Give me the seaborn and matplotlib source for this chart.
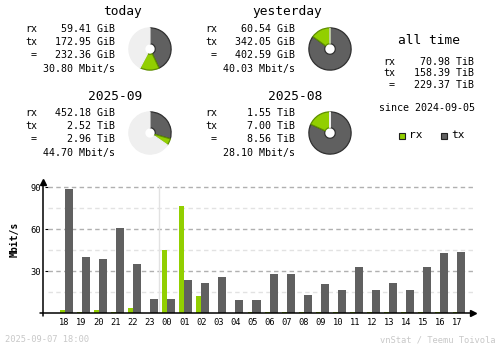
import matplotlib
matplotlib.use("Agg")
import matplotlib.pyplot as plt
from matplotlib.patches import Rectangle
import pandas as pd
import seaborn as sns

# ---- hourly traffic (Mbit/s) ----
hours = ["18", "19", "20", "21", "22", "23", "00", "01", "02", "03", "04", "05",
         "06", "07", "08", "09", "10", "11", "12", "13", "14", "15", "16", "17"]
rx_rate = [2.0, 1.0, 2.0, 1.0, 3.8, 0.0, 45.0, 76.4, 12.1, 0.0, 0.0, 0.7,
           0.7, 0.7, 0.7, 0.7, 0.7, 0.7, 0.7, 0.7, 0.7, 0.7, 0.7, 0.7]
tx_rate = [88.6, 40.0, 38.6, 60.7, 35.0, 10.0, 10.0, 23.6, 21.4, 25.7, 9.3, 9.3,
           27.9, 27.9, 12.9, 20.7, 16.4, 32.9, 16.4, 21.4, 16.4, 32.9, 42.9, 43.6]

# ---- period summaries ----
periods = ["today", "yesterday", "2025-09", "2025-08"]
rx_val = [59.41, 60.54, 452.18, 1.55]
rx_unit = ["GiB", "GiB", "GiB", "TiB"]
tx_val = [172.95, 342.05, 2.52, 7.00]
tx_unit = ["GiB", "GiB", "TiB", "TiB"]
tot_val = [232.36, 402.59, 2.96, 8.56]
tot_unit = ["GiB", "GiB", "TiB", "TiB"]
avg_rate = [30.80, 40.03, 44.70, 28.10]

alltime_rx, alltime_tx, alltime_tot = 70.98, 158.39, 229.37
since_date = "2024-09-05"
stamp = "2025-09-07 18:00"

RX = "#92cf00"
TX = "#606060"
PIE_BG = "#efefef"
W, H = 500, 348

sns.set_style("white")
plt.rcParams["font.family"] = ["DejaVu Sans Mono", "DejaVu Sans"]
plt.rcParams["lines.scale_dashes"] = False

fig = plt.figure(figsize=(W / 100, H / 100), dpi=100)
fig.patch.set_facecolor("white")


def fx(x):
    return x / W


def fy(y):
    return 1 - y / H


def put(x, y, s, ha="left", size=7.2, color="black", **kw):
    fig.text(fx(x), fy(y), s, ha=ha, va="center", fontsize=size, color=color, **kw)


def gib(v, u):
    return v * 1024 if u == "TiB" else v


# ---- summary blocks with donut charts ----
blocks = [(0, 0), (180, 0), (0, 84), (180, 84)]
compare = [1, 1, 3, 3]
for i, (dx, dy) in enumerate(blocks):
    put(142 + dx, 12 + dy, periods[i], ha="right", size=9.3)
    put(25 + dx, 29 + dy, "rx")
    put(25 + dx, 42 + dy, "tx")
    put(37 + dx, 55 + dy, "=", ha="right")
    put(115 + dx, 29 + dy, f"{rx_val[i]:.2f} {rx_unit[i]}", ha="right")
    put(115 + dx, 42 + dy, f"{tx_val[i]:.2f} {tx_unit[i]}", ha="right")
    put(115 + dx, 55 + dy, f"{tot_val[i]:.2f} {tot_unit[i]}", ha="right")
    put(115 + dx, 69 + dy, f"{avg_rate[i]:.2f} Mbit/s", ha="right")

    rx_g = gib(rx_val[i], rx_unit[i])
    tx_g = gib(tx_val[i], tx_unit[i])
    ref = max(gib(tot_val[i], tot_unit[i]), gib(tot_val[compare[i]], tot_unit[compare[i]]))
    rest = max(ref - rx_g - tx_g, 0.0)

    cx, cy, r = 150 + dx, 49 + dy, 24
    half = r * 1.1
    pax = fig.add_axes([fx(cx - half), fy(cy + half), 2 * half / W, 2 * half / H])
    pax.set_xlim(-1.1, 1.1)
    pax.set_ylim(-1.1, 1.1)
    pax.set_aspect("equal")
    pax.axis("off")
    wedges, _ = pax.pie([tx_g, rx_g, rest], colors=[TX, RX, PIE_BG], startangle=90,
                        counterclock=False, radius=1,
                        wedgeprops=dict(width=0.75, linewidth=0.9))
    wedges[0].set_edgecolor("#303030")
    wedges[1].set_edgecolor("#5f8f00")
    wedges[2].set_edgecolor(PIE_BG)

# ---- all time block ----
put(429, 40, "all time", ha="center", size=9.3)
put(383, 62, "rx")
put(383, 73, "tx")
put(395, 85, "=", ha="right")
put(474, 62, f"{alltime_rx:.2f} TiB", ha="right")
put(474, 73, f"{alltime_tx:.2f} TiB", ha="right")
put(474, 85, f"{alltime_tot:.2f} TiB", ha="right")
put(427, 108, f"since {since_date}", ha="center")

for lx, name, col in [(399, "rx", RX), (441, "tx", TX)]:
    fig.add_artist(Rectangle((fx(lx), fy(139)), 6 / W, 6 / H, transform=fig.transFigure,
                             facecolor=col, edgecolor="#202020", linewidth=0.8))
    put(lx + 10, 135.5, name, size=8)

# ---- hourly bar chart ----
ax = fig.add_axes([fx(48), fy(313), (473 - 48) / W, (313 - 181) / H])
df = pd.DataFrame({
    "hour": hours * 2,
    "rate": rx_rate + tx_rate,
    "dir": ["rx"] * len(hours) + ["tx"] * len(hours),
})
sns.barplot(data=df, x="hour", y="rate", hue="dir", order=hours, hue_order=["rx", "tx"],
            palette={"rx": RX, "tx": TX}, saturation=1, width=0.76, gap=0,
            linewidth=0, legend=False, ax=ax, zorder=3)

# narrower rx bar next to a wider tx bar in each slot
n = len(hours)
rx_w, tx_w = 0.29, 0.47
for k, p in enumerate(ax.patches[:2 * n]):
    if k < n:
        right = p.get_x() + p.get_width()
        p.set_x(right - rx_w)
        p.set_width(rx_w)
    else:
        left = p.get_x()
        p.set_width(tx_w)

ax.set_xlim(-0.97, n - 0.09)
ax.set_ylim(0, 94.3)

for v in [15, 30, 45, 60, 75, 90]:
    major = v % 30 == 0
    ax.axhline(v, color="#b0b0b0" if major else "#e2e2e2", lw=1,
               dashes=(3.2, 2.4), zorder=1)
ax.axvline(5.5, color="#e2e2e2", lw=1, zorder=1, ymax=0.97)

for s in ax.spines.values():
    s.set_visible(False)

# axes with arrow heads
ax.plot([-0.012, -0.012], [-0.025, 0.99], transform=ax.transAxes, color="black",
        lw=1.1, clip_on=False, zorder=5)
ax.plot([-0.012], [0.99], marker="^", ms=4, color="black", transform=ax.transAxes,
        clip_on=False, zorder=5)
ax.plot([-0.02, 1.0], [0, 0], transform=ax.transAxes, color="black",
        lw=1.1, clip_on=False, zorder=5)
ax.plot([1.0], [0], marker=">", ms=4, color="black", transform=ax.transAxes,
        clip_on=False, zorder=5)

ax.set_yticks([30, 60, 90])
ax.set_yticklabels(["30", "60", "90"])
ax.tick_params(axis="y", length=2.5, width=0.8, pad=2.5, labelsize=6.3, colors="black",
               left=True)
ax.tick_params(axis="x", length=0, pad=3.5, labelsize=6.3, colors="black")
ax.set_xlabel("")
ax.set_ylabel("")
put(14.5, 239, "Mbit/s", ha="center", size=7, rotation=90, weight="bold")

# ---- footer ----
put(5, 340, stamp, size=6.3, color="#c8c8c8")
put(495, 340, "vnStat / Teemu Toivola", ha="right", size=6.3, color="#c8c8c8")

fig.savefig("out.png", dpi=100)
